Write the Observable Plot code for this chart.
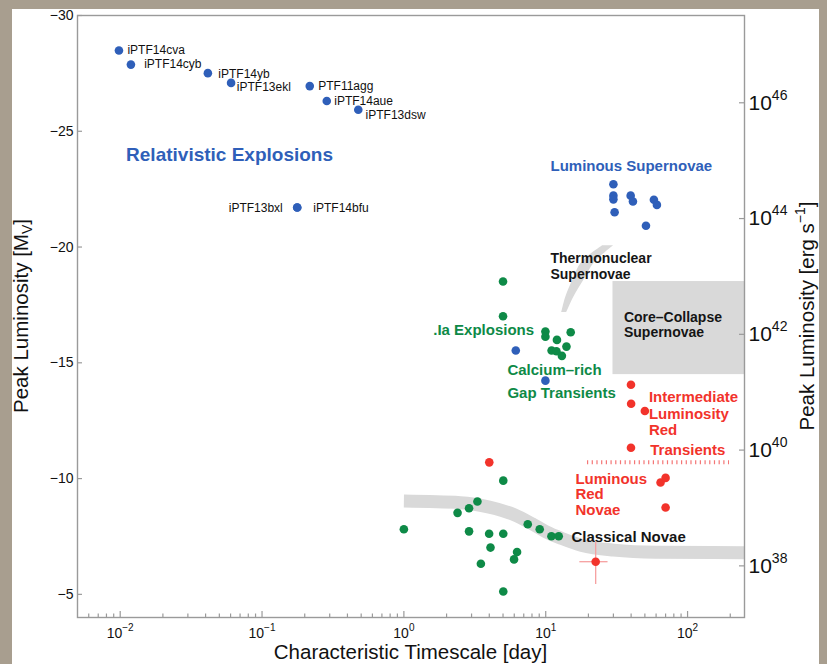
<!DOCTYPE html>
<html><head><meta charset="utf-8">
<script src="https://cdn.jsdelivr.net/npm/d3@7"></script>
<script src="https://cdn.jsdelivr.net/npm/@observablehq/plot@0.6"></script>
<style>
html,body{margin:0;padding:0;}
body{width:827px;height:664px;overflow:hidden;background:#a89e8f;}
#wrap{position:relative;width:827px;height:664px;}
#panel{position:absolute;left:12px;top:9px;width:807px;height:655px;background:#fff;}
#chart{position:absolute;left:0;top:0;}
</style></head><body>
<div id="wrap"><div id="panel"></div><div id="chart"></div></div>
<script>
// ---------- data ----------
const relNames = ["iPTF14cva","iPTF14cyb","iPTF14yb","iPTF13ekl","PTF11agg","iPTF14aue","iPTF13dsw","iPTF13bxl","iPTF14bfu"];
const relTime  = [0.0098,0.0119,0.0415,0.0605,0.217,0.286,0.477,0.177,0.177];
const relMag   = [-28.49,-27.88,-27.51,-27.09,-26.95,-26.31,-25.93,-21.71,-21.71];
const relLabelTime = [0.01125,0.01476,0.0492,0.0664,0.249,0.323,0.537,0.140,0.230];
const relLabelMag  = [-28.49,-27.88,-27.48,-26.90,-26.95,-26.30,-25.68,-21.69,-21.69];

const lsnTime = [30.0,30.0,30.0,30.6,39.7,41.2,57.9,60.8,50.9];
const lsnMag  = [-22.71,-22.22,-22.06,-21.50,-22.22,-21.97,-22.04,-21.82,-20.92];

const caBlueTime = [6.15,9.95];
const caBlueMag  = [-15.53,-14.23];

const iaCaTime = [5.0,5.0,9.95,9.95,12.0,15.0,14.0,11.0,11.9,13.0];
const iaCaMag  = [-18.51,-17.01,-16.35,-16.13,-15.99,-16.32,-15.70,-15.53,-15.50,-15.30];

const ilrtTime = [39.9,40.0,50.0,39.9];
const ilrtMag  = [-14.05,-13.23,-12.92,-11.33];

const lrnTime = [4.0,64.5,70.0,70.0];
const lrnMag  = [-10.70,-9.83,-10.03,-8.75];

const novaTime = [5.02,1.0,3.30,2.88,2.39,2.88,3.99,5.02,7.47,9.07,10.97,12.35,4.08,6.28,5.98,3.49,5.02];
const novaMag  = [-9.91,-7.81,-9.01,-8.72,-8.52,-7.72,-7.62,-7.62,-8.03,-7.81,-7.51,-7.51,-7.02,-6.83,-6.51,-6.32,-5.12];

const errTime = [22.5], errMag = [-6.41];
const errTimeLo = [17.4], errTimeHi = [27.5];
const errMagLo = [-7.25], errMagHi = [-5.42];

const novaBandTime = [1,2.5,4,6,8,10,13,18,30,60,252];
const novaBandMag  = [-9.03,-8.96,-8.77,-8.44,-8.05,-7.71,-7.41,-7.11,-6.91,-6.82,-6.80];

const thermoMag    = [-17.17,-17.82,-18.55,-19.33,-20.06];
const thermoTimeLo = [12.96,13.83,15.49,17.93,25.2];
const thermoTimeHi = [14.06,15.74,18.52,22.13,30.1];

const ccTime = [29.8,252];
const ccMag  = [-18.51,-14.49];

const sepTime = [19.7,197.6];
const sepMag  = [-10.70];

const leftTicks = [-30,-25,-20,-15,-10,-5];
const majorTicks = [0.01,0.1,1,10,100];
const minorTicks = [0.006,0.007,0.008,0.009,0.02,0.03,0.04,0.05,0.06,0.07,0.08,0.09,
  0.2,0.3,0.4,0.5,0.6,0.7,0.8,0.9,2,3,4,5,6,7,8,9,20,30,40,50,60,70,80,90,200];
const lumExp = [38,40,42,44,46];
const magAt1e44 = -21.23;

const blueLabels  = ["Luminous Supernovae"];
const blueLabelT  = [10.8];
const blueLabelM  = [-23.49];
const bigLabel = ["Relativistic Explosions"], bigLabelT = [0.0110], bigLabelM = [-23.99];
const blackLabels = ["Thermonuclear","Supernovae","Core\u2013Collapse","Supernovae"];
const blackLabelT = [10.8,10.8,35.6,35.6];
const blackLabelM = [-19.49,-18.80,-16.97,-16.29];
const cnLabel = ["Classical Novae"], cnLabelT = [15.2], cnLabelM = [-7.46];
const greenLabels = [".Ia Explosions","Calcium\u2013rich","Gap Transients"];
const greenLabelT = [1.61,5.37,5.37];
const greenLabelM = [-16.39,-14.70,-13.67];
const redLabels = ["Intermediate","Luminosity","Red","Transients","Luminous","Red","Novae"];
const redLabelT = [53.4,53.4,53.4,54.6,16.2,16.2,16.2];
const redLabelM = [-13.51,-12.79,-12.10,-11.21,-9.99,-9.31,-8.62];

// ---------- helpers ----------
const zip = (ts, ms) => ts.map((t, i) => ({t, m: ms[i]}));
const lab = (txt, ts, ms) => txt.map((s, i) => ({s, t: ts[i], m: ms[i]}));

const BLUE = "#2f5fb9", GREEN = "#0e8a47", RED = "#f2332b", GRAY = "#d9d9d9", AX = "#9a9a9a";
const FONT = "'Liberation Sans', Arial, Helvetica, sans-serif";
const W = 827, H = 664, mL = 77, mR = 83, mT = 15, mB = 47;
const iW = W - mL - mR, iH = H - mT - mB;

const rel = relNames.map((n, i) => ({n, t: relTime[i], m: relMag[i], lt: relLabelTime[i], lm: relLabelMag[i]}));
const R = 4.3;

const svg = Plot.plot({
  width: W, height: H,
  marginLeft: mL, marginRight: mR, marginTop: mT, marginBottom: mB,
  style: {fontFamily: FONT, background: "transparent", overflow: "visible", color: "#111"},
  x: {type: "log", domain: [0.005, 252]},
  y: {domain: [-4, -30]},
  marks: [
    Plot.rect([0], {x1: () => ccTime[0], x2: () => ccTime[1], y1: () => ccMag[0], y2: () => ccMag[1], fill: GRAY}),
    Plot.areaX(thermoMag.map((m, i) => ({m, lo: thermoTimeLo[i], hi: thermoTimeHi[i]})),
      {y: "m", x1: "lo", x2: "hi", fill: GRAY, curve: "catmull-rom"}),
    Plot.line(zip(novaBandTime, novaBandMag), {x: "t", y: "m", stroke: GRAY, strokeWidth: 13, curve: "monotone-x", strokeLinecap: "butt"}),
    Plot.ruleY(sepMag, {y: d => d, x1: () => sepTime[0], x2: () => sepTime[1], stroke: "#f04848", strokeOpacity: 0.75, strokeWidth: 4, strokeDasharray: "1.2 3.5"}),
    Plot.ruleX(errTime.map((t, i) => ({t, lo: errMagLo[i], hi: errMagHi[i]})), {x: "t", y1: "lo", y2: "hi", stroke: "#f6a0a0", strokeWidth: 1.3}),
    Plot.ruleY(errMag.map((m, i) => ({m, lo: errTimeLo[i], hi: errTimeHi[i]})), {y: "m", x1: "lo", x2: "hi", stroke: "#f6a0a0", strokeWidth: 1.3}),
    Plot.dot(rel, {x: "t", y: "m", r: R, fill: BLUE}),
    Plot.dot(zip(lsnTime, lsnMag), {x: "t", y: "m", r: R, fill: BLUE}),
    Plot.dot(zip(caBlueTime, caBlueMag), {x: "t", y: "m", r: R, fill: BLUE}),
    Plot.dot(zip(iaCaTime, iaCaMag), {x: "t", y: "m", r: R, fill: GREEN}),
    Plot.dot(zip(novaTime, novaMag), {x: "t", y: "m", r: R, fill: GREEN}),
    Plot.dot(zip(ilrtTime, ilrtMag), {x: "t", y: "m", r: R, fill: RED}),
    Plot.dot(zip(lrnTime, lrnMag), {x: "t", y: "m", r: R, fill: RED}),
    Plot.dot(zip(errTime, errMag), {x: "t", y: "m", r: R, fill: RED}),
    Plot.text(rel.filter(d => d.n !== "iPTF13bxl"), {x: "lt", y: "lm", text: "n", textAnchor: "start", fontSize: 12, fill: "#111"}),
    Plot.text(rel.filter(d => d.n === "iPTF13bxl"), {x: "lt", y: "lm", text: "n", textAnchor: "end", fontSize: 12, fill: "#111"}),
    Plot.text(lab(bigLabel, bigLabelT, bigLabelM), {x: "t", y: "m", text: "s", textAnchor: "start", fontSize: 19, fontWeight: "bold", fill: BLUE}),
    Plot.text(lab(blueLabels, blueLabelT, blueLabelM), {x: "t", y: "m", text: "s", textAnchor: "start", fontSize: 15, fontWeight: "bold", fill: BLUE}),
    Plot.text(lab(blackLabels, blackLabelT, blackLabelM), {x: "t", y: "m", text: "s", textAnchor: "start", fontSize: 14, fontWeight: "bold", fill: "#151515"}),
    Plot.text(lab(cnLabel, cnLabelT, cnLabelM), {x: "t", y: "m", text: "s", textAnchor: "start", fontSize: 15, fontWeight: "bold", fill: "#151515"}),
    Plot.text(lab(greenLabels, greenLabelT, greenLabelM), {x: "t", y: "m", text: "s", textAnchor: "start", fontSize: 15, fontWeight: "bold", fill: GREEN}),
    Plot.text(lab(redLabels, redLabelT, redLabelM), {x: "t", y: "m", text: "s", textAnchor: "start", fontSize: 15, fontWeight: "bold", fill: RED}),
    // frame and inside ticks
    Plot.frame({stroke: AX, strokeWidth: 1.4}),
    Plot.tickY(leftTicks, {y: d => d, insetRight: iW - 5, stroke: AX, strokeWidth: 1.2}),
    Plot.tickY(lumExp.map(e => magAt1e44 - 2.5 * (e - 44)), {y: d => d, insetLeft: iW - 5, stroke: AX, strokeWidth: 1.2}),
    Plot.tickX(majorTicks, {x: d => d, insetTop: iH - 6, stroke: AX, strokeWidth: 1.2}),
    Plot.tickX(minorTicks, {x: d => d, insetTop: iH - 3.5, stroke: AX, strokeWidth: 1.2}),
    // tick labels
    Plot.axisY(leftTicks, {anchor: "left", tickSize: 0, tickPadding: 4, fontSize: 14, label: null,
      tickFormat: d => "\u2212" + Math.abs(d)}),
    Plot.axisY(lumExp.map(e => magAt1e44 - 2.5 * (e - 44)), {anchor: "right", tickSize: 0, tickPadding: 4, fontSize: 21, label: null,
      tickFormat: d => "10~" + Math.round(44 + (magAt1e44 - d) / 2.5)}),
    Plot.axisX(majorTicks, {anchor: "bottom", tickSize: 0, tickPadding: 11, fontSize: 14, label: null,
      tickFormat: d => "10^" + String(Math.round(Math.log10(d))).replace("-", "\u2212")})
  ]
});

// superscripts in tick labels
d3.select(svg).selectAll("text").each(function () {
  const s = this.textContent;
  let m = /^10\^(.+)$/.exec(s);
  if (m) {
    this.textContent = "10";
    d3.select(this).append("tspan").attr("font-size", 10).attr("dy", -7).text(m[1]);
    return;
  }
  m = /^10~(.+)$/.exec(s);
  if (m) {
    this.textContent = "10";
    d3.select(this).append("tspan").attr("font-size", 14).attr("dy", -10).text(m[1]);
  }
});

// axis titles
const g = d3.select(svg).append("g").attr("font-family", FONT).attr("font-size", 20.5).attr("fill", "#111");
g.append("text").attr("x", (mL + W - mR) / 2).attr("y", 659).attr("text-anchor", "middle").text("Characteristic Timescale [day]");
const lt = g.append("text").attr("transform", `translate(27.5,${(mT + H - mB) / 2}) rotate(-90)`).attr("text-anchor", "middle");
lt.append("tspan").text("Peak Luminosity [M");
lt.append("tspan").attr("font-size", 14).attr("dy", 4).text("V");
lt.append("tspan").attr("dy", -4).text("]");
const rt = g.append("text").attr("transform", `translate(814,${(mT + H - mB) / 2}) rotate(-90)`).attr("text-anchor", "middle");
rt.append("tspan").text("Peak Luminosity [erg s");
rt.append("tspan").attr("font-size", 14).attr("dy", -9).text("\u22121");
rt.append("tspan").attr("dy", 9).text("]");

document.getElementById("chart").appendChild(svg);
</script></body></html>
